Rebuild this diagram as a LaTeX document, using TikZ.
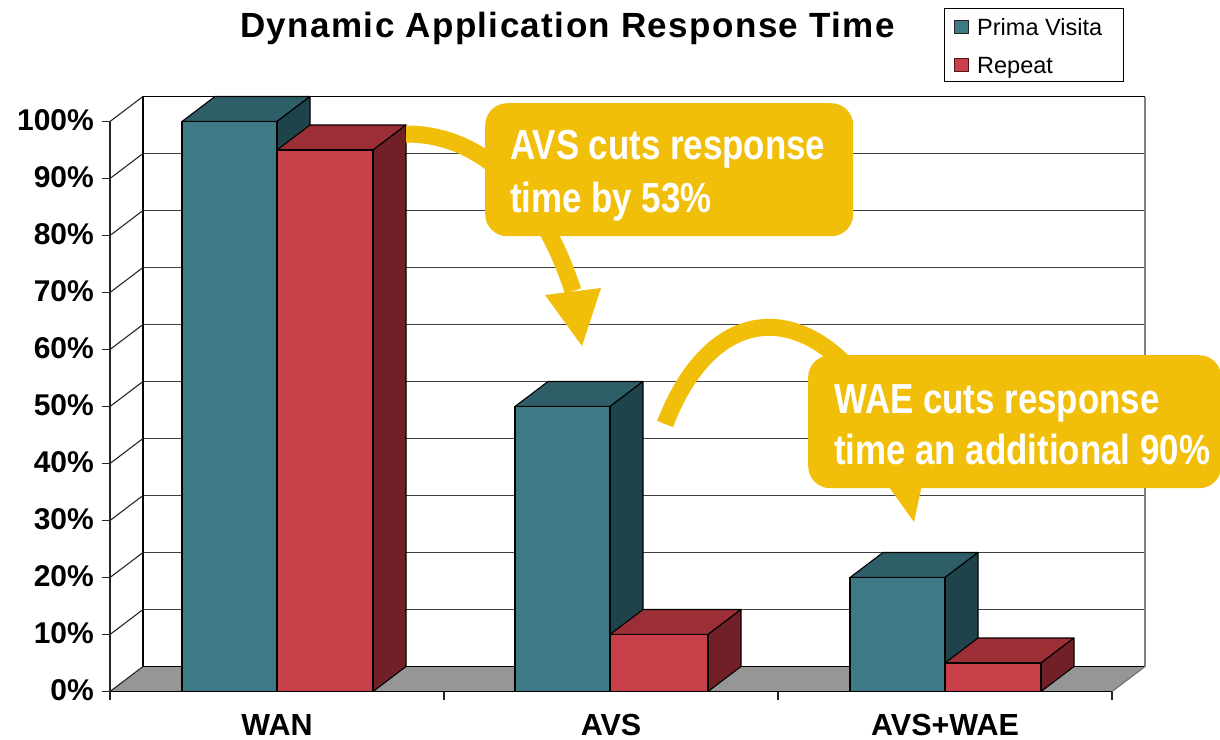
\documentclass[tikz,border=0pt]{standalone}
\usepackage{fontspec}
\setmainfont{Liberation Sans}
\newfontfamily\callfont{Liberation Sans}[FakeStretch=0.83]
\newfontfamily\titlefont{Liberation Sans}[LetterSpace=4]
\definecolor{bluefront}{HTML}{3D7A86}
\definecolor{bluetop}{HTML}{2E5E67}
\definecolor{blueside}{HTML}{1F434A}
\definecolor{redfront}{HTML}{C8404A}
\definecolor{redtop}{HTML}{9C2F36}
\definecolor{redside}{HTML}{722027}
\definecolor{floorgray}{HTML}{969696}
\definecolor{yel}{HTML}{F1BF0A}
\tikzset{
  gridline/.style={draw=black!75,line width=1.2pt},
  wallline/.style={draw=black!85,line width=1.1pt},
  bardraw/.style={draw=black,line width=1.1pt,line join=round},
  band/.style={draw=yel,line width=17pt},
  callbox/.style={fill=yel,rounded corners=22pt,inner sep=0pt,anchor=north west},
  calltext/.style={font=\callfont\bfseries\fontsize{42}{52}\selectfont,text=white,inner sep=0pt,anchor=base west},
  ticklbl/.style={font=\bfseries\fontsize{30}{36}\selectfont,inner sep=0pt,anchor=base east},
  catlbl/.style={font=\bfseries\fontsize{30.5}{36}\selectfont,inner sep=0pt,anchor=base},
  leglbl/.style={font=\fontsize{23.5}{28}\selectfont,inner sep=0pt,anchor=base west}
}
\newcommand\cbar[4]{%
  \pgfmathsetmacro\yt{691.5-5.7*#3}%
  \pgfmathsetmacro\yb{\yt-25}%
  \filldraw[fill=#4top,bardraw] (#1,\yt) -- (#1+33,\yb) -- (#2+33,\yb) -- (#2,\yt) -- cycle;
  \filldraw[fill=#4side,bardraw] (#2,\yt) -- (#2+33,\yb) -- (#2+33,666.5) -- (#2,691.5) -- cycle;
  \filldraw[fill=#4front,bardraw] (#1,\yt) rectangle (#2,691.5);
}
\begin{document}
\begin{tikzpicture}[x=1pt,y=-1pt]
\useasboundingbox (0,0) rectangle (1220,739);
% back wall
\fill[white] (143,96.5) rectangle (1145,666.5);
\foreach \k in {1,...,9} \draw[gridline] (143,{666.5-57*\k}) -- (1145,{666.5-57*\k});
\draw[black,line width=1.3pt] (143,666.5) -- (143,96.5) -- (1145,96.5);
\draw[black!50,line width=1.3pt] (1145,96.5) -- (1145,666.5);
% floor
\fill[floorgray] (110,691.5) -- (1112,691.5) -- (1145,666.5) -- (143,666.5) -- cycle;
\draw[black,line width=1.2pt] (143,666.5) -- (1145,666.5);
\draw[black,line width=1.3pt] (110,691.5) -- (1112,691.5);
\draw[black!55,line width=1.2pt] (1112,691.5) -- (1145,666.5);
% left wall and value ticks
\foreach \k in {0,...,10} {
  \draw[wallline] (110,{691.5-57*\k}) -- (143,{666.5-57*\k});
  \draw[wallline] (102,{691.5-57*\k}) -- (110,{691.5-57*\k});
}
\draw[wallline] (110,121.5) -- (110,691.5);
% category ticks
\foreach \x in {110,444,778,1112} \draw[wallline] (\x,691.5) -- (\x,700);
% bars
\cbar{182}{277}{100}{blue}
\cbar{277}{373}{95}{red}
\cbar{515}{610}{50}{blue}
\cbar{610}{708}{10}{red}
\cbar{850}{945}{20}{blue}
\cbar{945}{1041}{5}{red}
% value labels
\foreach \k/\t in {0/0,1/10,2/20,3/30,4/40,5/50,6/60,7/70,8/80,9/90,10/100}
  \node[ticklbl] (v\k) at (94,{700.5-57*\k}) {\t\%};
% category labels
\node[catlbl] (cwan) at (277,735) {WAN};
\node[catlbl] (cavs) at (611,735) {AVS};
\node[catlbl] (cwae) at (945,735) {AVS+WAE};
% title
\node[font=\titlefont\bfseries\fontsize{35}{40}\selectfont,inner sep=0pt,anchor=base] (title) at (567.5,37.5) {Dynamic Application Response Time};
% legend
\node[draw=black,line width=1pt,fill=white,minimum width=179pt,minimum height=73pt,inner sep=0pt,anchor=north west] (legend) at (944,8) {};
\filldraw[fill=bluefront,draw=black!85,line width=1pt] (954,20) rectangle (968,33);
\filldraw[fill=redfront,draw=redside!70!black,line width=1pt] (954,58) rectangle (968,71);
\node[leglbl] (lprima) at (977,35) {Prima Visita};
\node[leglbl] (lrepeat) at (977,73) {Repeat};
% callout 1
\coordinate (a1s) at (406,134);
\coordinate (a1e) at (573,291);
\draw[band] (a1s) .. controls (480,134) and (540,190) .. (a1e);
\node[callbox,minimum width=368pt,minimum height=133pt] (avsbox) at (485,103) {};
\coordinate (h1a) at (545,295);
\coordinate (h1b) at (601,288);
\coordinate (h1c) at (582,346);
\fill[yel] (h1a) -- (h1b) -- (h1c) -- cycle;
\node[calltext] (avs1) at (510,159) {AVS cuts response};
\node[calltext] (avs2) at (510,212) {time by 53\%};
% callout 2
\coordinate (a2s) at (665,424);
\coordinate (a2e) at (880,410);
\draw[band] (a2s) .. controls (715,295) and (815,300) .. (a2e);
\coordinate (t2a) at (884,480);
\coordinate (t2b) at (923,480);
\coordinate (t2c) at (914,522);
\fill[yel] (t2a) -- (t2b) -- (t2c) -- cycle;
\node[callbox,minimum width=413pt,minimum height=133pt] (waebox) at (808,355) {};
\node[calltext] (wae1) at (834,413) {WAE cuts response};
\node[calltext] (wae2) at (834,464) {time an additional 90\%};
\end{tikzpicture}
\end{document}
